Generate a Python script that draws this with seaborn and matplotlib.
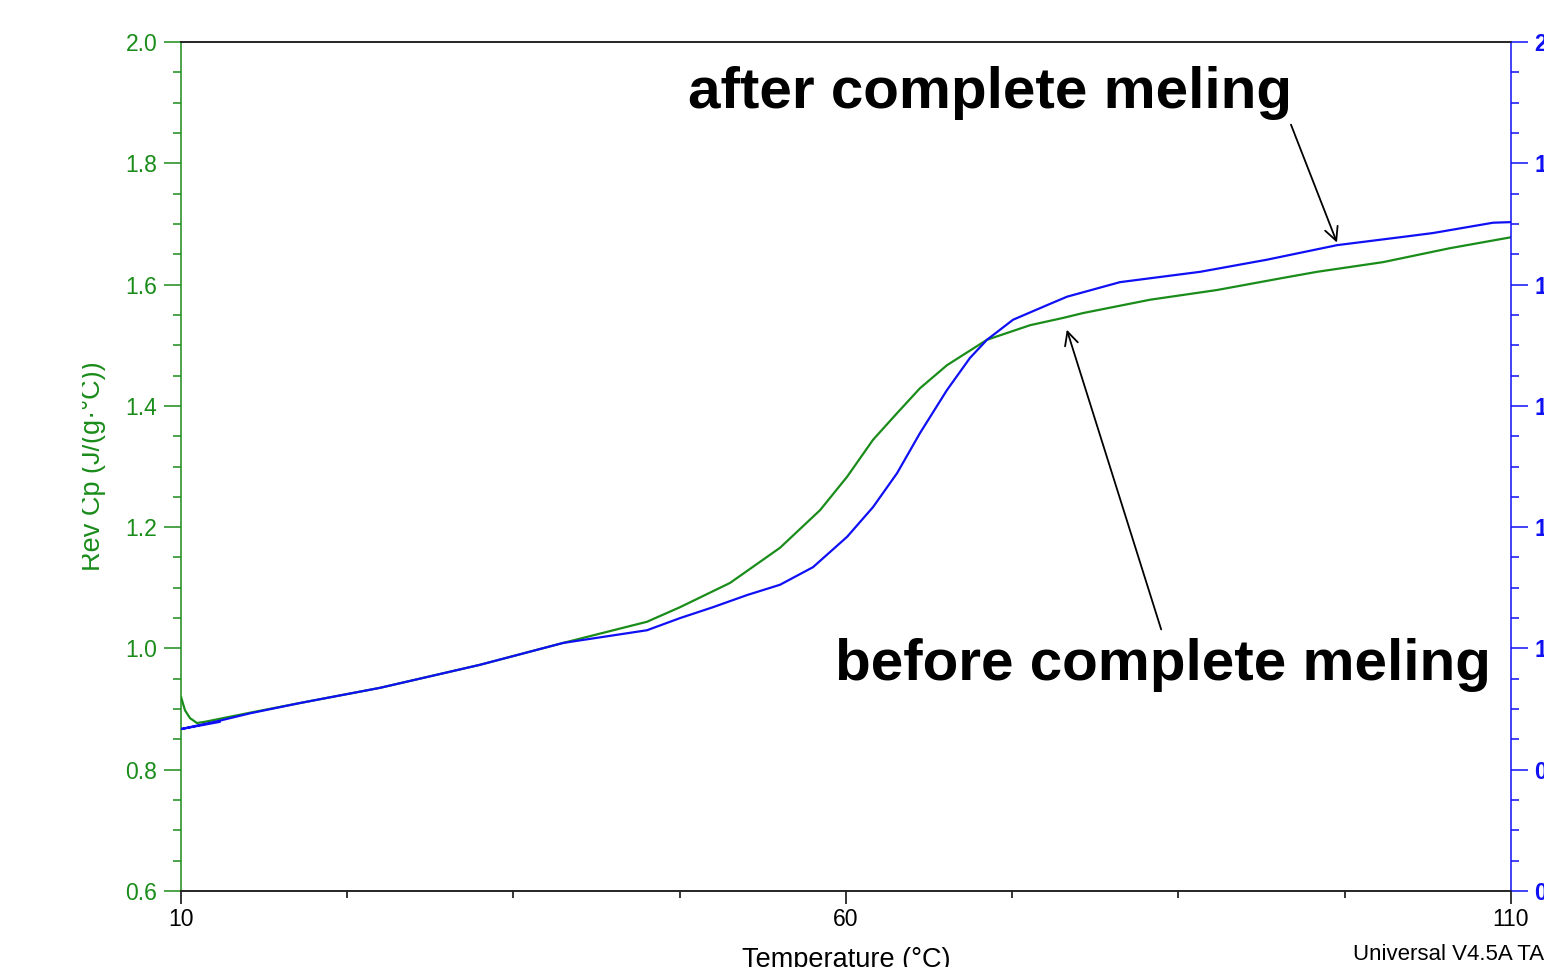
import numpy as np
import pandas as pd
import matplotlib
matplotlib.use("Agg")
import matplotlib.pyplot as plt
import seaborn as sns
from matplotlib.ticker import MultipleLocator
from matplotlib.transforms import Bbox, TransformedBbox

# Rev Cp before complete melting (green, left axis)
before_temp = [10.0, 10.3, 10.68, 11.2, 11.8, 15.19, 18.95, 24.96, 32.48, 38.72, 45.04, 47.52,
               51.28, 55.04, 58.05, 60.08, 62.03, 63.84, 65.56, 67.59, 70.6, 73.84, 76.32,
               77.82, 82.86, 87.89, 92.86, 95.41, 100.38, 105.41, 110.0]
before_cp = [0.920, 0.898, 0.885, 0.877, 0.879, 0.894, 0.910, 0.935, 0.973, 1.009, 1.044, 1.068,
             1.108, 1.166, 1.228, 1.283, 1.344, 1.388, 1.429, 1.467, 1.509, 1.533, 1.545,
             1.553, 1.575, 1.591, 1.611, 1.621, 1.637, 1.660, 1.678]

# Rev Cp after complete melting (blue, right axis); the run starts with a short hook
after_temp = [12.93, 10.0, 12.93, 15.19, 18.95, 24.96, 32.48, 38.72, 45.04, 47.52, 50.0, 52.56,
              55.04, 57.52, 60.08, 62.03, 63.84, 65.56, 67.59, 69.32, 70.6, 72.56, 75.11,
              76.62, 80.6, 86.62, 91.65, 96.92, 101.65, 104.14, 108.65, 110.0]
after_cp = [0.879, 0.867, 0.881, 0.893, 0.910, 0.935, 0.973, 1.009, 1.030, 1.050, 1.068, 1.088,
            1.105, 1.134, 1.184, 1.233, 1.289, 1.355, 1.426, 1.479, 1.509, 1.542, 1.566,
            1.580, 1.604, 1.621, 1.641, 1.665, 1.678, 1.685, 1.702, 1.703]

green = "#1a8c1a"
blue = "#1010f5"

sns.set_theme(style="white")
plt.rcParams["font.family"] = ["Liberation Sans", "DejaVu Sans"]

fig = plt.figure(figsize=(15.44, 9.67), dpi=100)
ax = fig.add_axes([181 / 1544, 1 - 891 / 967, 1330 / 1544, 849 / 967])
ax2 = ax.twinx()

before_df = pd.DataFrame({"temp": before_temp, "cp": before_cp})
after_df = pd.DataFrame({"temp": after_temp, "cp": after_cp})
sns.lineplot(data=before_df, x="temp", y="cp", ax=ax, color=green, linewidth=1.6,
             sort=False, estimator=None)
sns.lineplot(data=after_df, x="temp", y="cp", ax=ax2, color=blue, linewidth=1.6,
             sort=False, estimator=None)

for a in (ax, ax2):
    a.set_xlim(10, 110)
    a.set_ylim(0.6, 2.0)
    a.yaxis.set_major_locator(MultipleLocator(0.2))
    a.yaxis.set_minor_locator(MultipleLocator(0.05))
    a.grid(False)

ax.xaxis.set_major_locator(MultipleLocator(50, offset=10))
ax.xaxis.set_minor_locator(MultipleLocator(12.5, offset=10))

# spines
for s in list(ax.spines.values()) + list(ax2.spines.values()):
    s.set_linewidth(1.1)
ax.spines["left"].set_color(green)
ax2.spines["left"].set_visible(False)
ax2.spines["right"].set_color(blue)
ax.spines["right"].set_visible(False)
ax.spines["top"].set_color("black")
ax.spines["bottom"].set_color("black")

ax.tick_params(axis="x", which="major", direction="out", length=9, width=1.1,
               colors="black", labelsize=16.5, pad=3, bottom=True)
ax.tick_params(axis="x", which="minor", direction="out", length=5, width=1.1,
               color="black", bottom=True)
ax.tick_params(axis="y", which="major", direction="out", length=12, width=1.1,
               color=green, labelcolor=green, labelsize=16.5, pad=5, left=True)
ax.tick_params(axis="y", which="minor", direction="out", length=6, width=1.1,
               color=green, left=True)
ax2.tick_params(axis="y", which="major", direction="out", length=12, width=1.1,
                color=blue, labelcolor=blue, labelsize=16.5, pad=5, right=True)
ax2.tick_params(axis="y", which="minor", direction="out", length=6, width=1.1,
                color=blue, right=True)
ax2.set_ylabel("")
for lab in ax2.get_yticklabels():
    lab.set_fontweight("bold")

ax.set_xlabel("Temperature (°C)", fontsize=19.5, color="black", labelpad=12)
ax.set_ylabel("Rev Cp (J/(g·°C))", fontsize=19.5, color=green, labelpad=14)
# the reference cuts off the top of the rotated label
ylab = ax.yaxis.label
ylab.set_clip_box(TransformedBbox(Bbox.from_extents(82 / 1544, 0, 1, 1), fig.transFigure))
ylab.set_clip_on(True)

# annotations
ax.annotate("", xy=(96.99, 1.665), xytext=(93.38, 1.868),
            arrowprops=dict(arrowstyle="->", color="black", lw=1.3, mutation_scale=24))
ax.annotate("", xy=(76.54, 1.530), xytext=(83.76, 1.027),
            arrowprops=dict(arrowstyle="->", color="black", lw=1.3, mutation_scale=24))
ax.text(70.83, 1.891, "after complete meling", fontsize=42, fontweight="bold",
        ha="center", va="baseline", color="black")
ax.text(83.83, 0.948, "before complete meling", fontsize=42, fontweight="bold",
        ha="center", va="baseline", color="black")

fig.text(1353 / 1544, 1 - 960 / 967, "Universal V4.5A TA Instruments", fontsize=16,
         color="black", ha="left", va="baseline")

fig.savefig("out.png", dpi=100)
